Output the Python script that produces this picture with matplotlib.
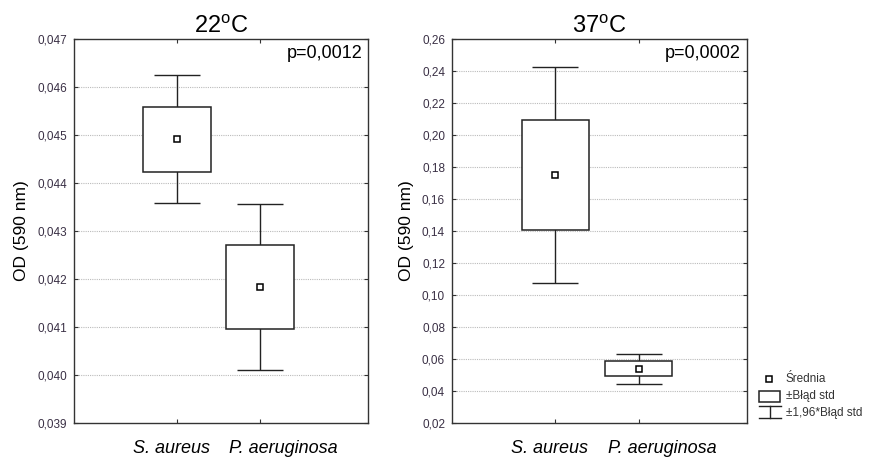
import matplotlib
matplotlib.use("Agg")
import matplotlib.pyplot as plt
from matplotlib.patches import Rectangle

plt.rcParams['font.family'] = ['Liberation Sans', 'DejaVu Sans']
plt.rcParams['mathtext.fontset'] = 'custom'
plt.rcParams['mathtext.rm'] = 'Liberation Sans'

categories = ['S. aureus', 'P. aeruginosa']

# mean and standard error
mean_22 = [0.04491, 0.04183]
se_22 = [0.00068, 0.00088]
mean_37 = [0.1749, 0.0540]
se_37 = [0.0345, 0.0048]

titles = ['22$^{\\mathregular{o}}$C', '37$^{\\mathregular{o}}$C']
p_values = ['p=0,0012', 'p=0,0002']
yticks_22 = [0.039, 0.040, 0.041, 0.042, 0.043, 0.044, 0.045, 0.046, 0.047]
yticks_37 = [0.02, 0.04, 0.06, 0.08, 0.10, 0.12, 0.14, 0.16, 0.18, 0.20, 0.22, 0.24, 0.26]

W, H = 869, 459
fig = plt.figure(figsize=(W / 100, H / 100), dpi=100)

ax1 = fig.add_axes([74 / W, 1 - 423 / H, 294 / W, 384 / H])
ax2 = fig.add_axes([452 / W, 1 - 423 / H, 295 / W, 384 / H])

pos = [0, 1]
edge = '#222222'

for ax, means, ses, title, ptxt, yt, fmt in [
        (ax1, mean_22, se_22, titles[0], p_values[0], yticks_22, '{:.3f}'),
        (ax2, mean_37, se_37, titles[1], p_values[1], yticks_37, '{:.2f}')]:
    # whiskers +-1.96*SE
    ax.errorbar(pos, means, yerr=[1.96 * s for s in ses], fmt='none',
                ecolor=edge, elinewidth=1.0, capsize=16.5, capthick=1.0, zorder=2)
    # box +-SE
    ax.bar(pos, [2 * s for s in ses], bottom=[m - s for m, s in zip(means, ses)],
           width=0.81, color='white', edgecolor=edge, linewidth=1.1, zorder=3)
    ax.plot(pos, means, 's', ms=5, mfc='white', mec='black', mew=1.1, zorder=4)

    ax.set_xlim(-1.24, 2.30)
    ax.set_ylim(yt[0], yt[-1])
    ax.set_yticks(yt)
    ax.set_yticklabels([fmt.format(v).replace('.', ',') for v in yt])
    ax.set_xticks(pos)
    ax.set_xticklabels([])
    for v in yt[1:-1]:
        ax.axhline(v, color='#bbbbbb', lw=0.8, ls=(0, (1, 1)), zorder=1)
    ax.tick_params(direction='in', top=True, right=True, length=3,
                   width=0.8, color='#333333', labelsize=8.5,
                   labelcolor='#3a3045', pad=5)
    for s in ax.spines.values():
        s.set_color('#333333')
        s.set_linewidth(1.0)
    ax.set_title(title, fontsize=17, pad=4)
    ax.set_ylabel('OD (590 nm)', fontsize=12.5, labelpad=6)
    ax.text(0.98, 0.985, ptxt, transform=ax.transAxes, ha='right', va='top',
            fontsize=13)
    xt = ax.get_xaxis_transform()
    ax.text(pos[0] - 0.07, -0.045, categories[0], transform=xt, ha='center',
            va='top', fontsize=13, style='italic')
    ax.text(pos[1] + 0.28, -0.045, categories[1], transform=xt, ha='center',
            va='top', fontsize=13, style='italic')

# legend drawn in pixel coordinates
lax = fig.add_axes([752 / W, 1 - 425 / H, 117 / W, 55 / H])
lax.set_xlim(752, 869)
lax.set_ylim(425, 370)
lax.axis('off')
lax.plot([769], [379], 's', ms=5, mfc='white', mec='black', mew=1.1)
lax.add_patch(Rectangle((759, 391), 21, 11, fill=False, ec=edge, lw=1.1))
lax.plot([770, 770], [405.7, 418.3], color=edge, lw=1.0)
lax.plot([759, 781], [405.7, 405.7], color=edge, lw=1.0)
lax.plot([759, 781], [418.3, 418.3], color=edge, lw=1.0)
lax.text(786, 379, 'Średnia', va='center', fontsize=8.5, color='#333333')
lax.text(786, 396, '±Błąd std', va='center', fontsize=8.5, color='#333333')
lax.text(786, 413, '±1,96*Błąd std', va='center', fontsize=8.5, color='#333333')

fig.savefig('out.png', dpi=100)
